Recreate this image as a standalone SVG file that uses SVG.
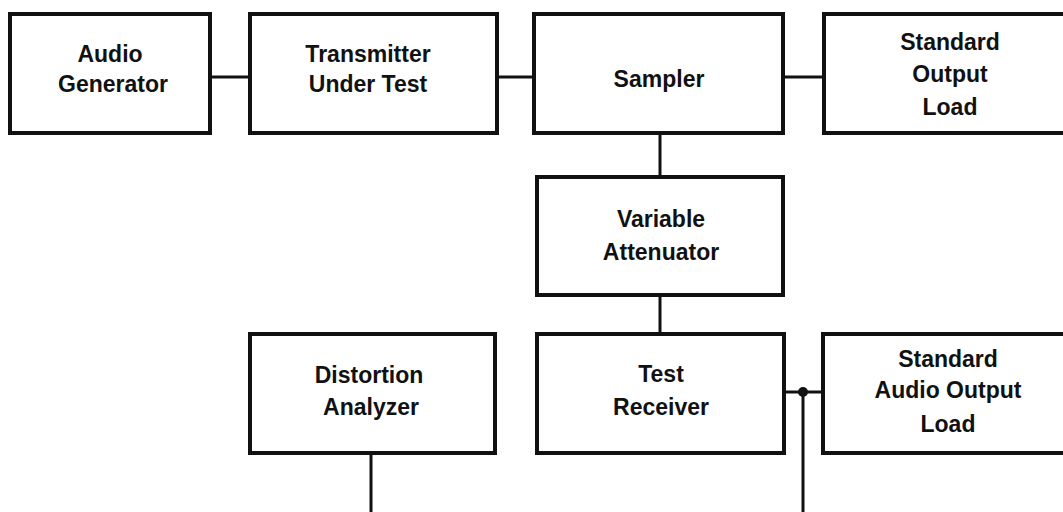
<svg xmlns="http://www.w3.org/2000/svg" width="1063" height="512" viewBox="0 0 1063 512">
<style>
.box{fill:#fff;stroke:#111;stroke-width:4}
.t{font-family:"Liberation Sans",Arial,sans-serif;font-weight:bold;font-size:23px;fill:#111;text-anchor:middle}
.c{stroke:#111;stroke-width:3;fill:none}
</style>
<rect width="1063" height="512" fill="#fff"/>
<g id="connectors">
<line class="c" x1="210" y1="77" x2="250" y2="77"/>
<line class="c" x1="497" y1="77" x2="534" y2="77"/>
<line class="c" x1="783" y1="77" x2="824" y2="77"/>
<line class="c" x1="660" y1="134" x2="660" y2="177"/>
<line class="c" x1="660" y1="295" x2="660" y2="334"/>
<line class="c" x1="784" y1="392" x2="823" y2="392"/>
<line class="c" x1="803" y1="392" x2="803" y2="512"/>
<line class="c" x1="371" y1="453" x2="371" y2="512"/>
<circle cx="803" cy="392" r="5" fill="#111"/>
</g>
<g id="audio-generator">
<rect class="box" x="10" y="14" width="200" height="119"/>
<text class="t" x="110" y="62">Audio</text>
<text class="t" x="113" y="92">Generator</text>
</g>
<g id="transmitter">
<rect class="box" x="250" y="14" width="247" height="119"/>
<text class="t" x="368" y="62">Transmitter</text>
<text class="t" x="368" y="92">Under Test</text>
</g>
<g id="sampler">
<rect class="box" x="534" y="14" width="249" height="119"/>
<text class="t" x="659" y="87">Sampler</text>
</g>
<g id="standard-output-load">
<rect class="box" x="824" y="14" width="250" height="119"/>
<text class="t" x="950" y="50">Standard</text>
<text class="t" x="950" y="82">Output</text>
<text class="t" x="950" y="115">Load</text>
</g>
<g id="variable-attenuator">
<rect class="box" x="537" y="177" width="246" height="118"/>
<text class="t" x="661" y="227">Variable</text>
<text class="t" x="661" y="260">Attenuator</text>
</g>
<g id="distortion-analyzer">
<rect class="box" x="250" y="334" width="245" height="119"/>
<text class="t" x="369" y="383">Distortion</text>
<text class="t" x="371" y="415">Analyzer</text>
</g>
<g id="test-receiver">
<rect class="box" x="537" y="334" width="247" height="119"/>
<text class="t" x="661" y="382">Test</text>
<text class="t" x="661" y="415">Receiver</text>
</g>
<g id="standard-audio-output-load">
<rect class="box" x="823" y="334" width="251" height="119"/>
<text class="t" x="948" y="367">Standard</text>
<text class="t" x="948" y="398">Audio Output</text>
<text class="t" x="948" y="432">Load</text>
</g>
</svg>
